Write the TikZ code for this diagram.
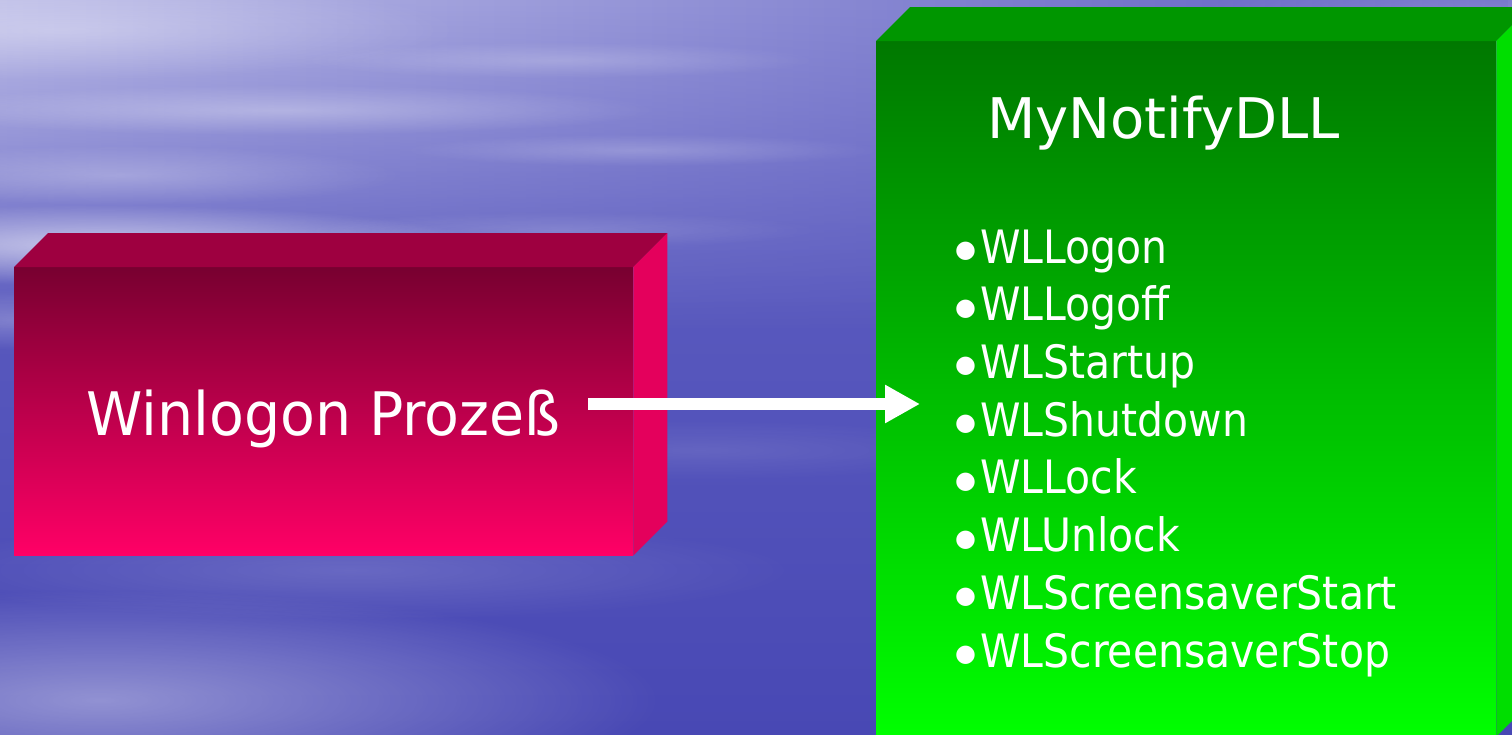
\documentclass[tikz,border=0pt]{standalone}
\usepackage{fontspec}
\newfontfamily\tahA[FakeStretch=0.95]{DejaVu Sans}
\newfontfamily\tahT[FakeStretch=1.0]{DejaVu Sans}
\newfontfamily\tahL[FakeStretch=0.89]{DejaVu Sans}
\newfontfamily\dotfont{DejaVu Sans}
\usetikzlibrary{arrows.meta,fadings}
\definecolor{skyL}{HTML}{BEBEE8}
\definecolor{skyM}{HTML}{8484D0}
\definecolor{skyR}{HTML}{5E5EC2}
\definecolor{baseT}{HTML}{6464C4}
\definecolor{baseB}{HTML}{4848B4}
\definecolor{redTop}{HTML}{780030}
\definecolor{redBot}{HTML}{FF0066}
\definecolor{redTopFace}{HTML}{9E0040}
\definecolor{redSide}{HTML}{E4005C}
\definecolor{grnTop}{HTML}{007800}
\definecolor{grnBot}{HTML}{00FF00}
\definecolor{grnTopFace}{HTML}{009600}
\definecolor{grnSide}{HTML}{00DE00}
\tikzfading[name=soft, inner color=transparent!0, outer color=transparent!100]
\tikzfading[name=skyfade, top color=transparent!0, middle color=transparent!5, bottom color=transparent!100]
\tikzset{
  glow/.style={fill=white, path fading=soft, opacity=#1},
  label/.style={anchor=base west, inner sep=0pt, text=white},
  itemtext/.style={label, font=\tahL\fontsize{46}{56}\selectfont},
}
\newcommand{\bul}{\makebox[23pt][l]{\hspace{-2pt}\raisebox{5.5pt}{\dotfont\fontsize{24}{24}\selectfont●}}}
\begin{document}
\begin{tikzpicture}[x=1pt,y=-1pt]
\useasboundingbox (0,0) rectangle (1512,734);
\clip (0,0) rectangle (1512,734);
% background: sky and sea
\shade[top color=baseT, bottom color=baseB] (0,0) rectangle (1512,734);
\shade[left color=skyL, middle color=skyM, right color=skyR, path fading=skyfade] (0,0) rectangle (1512,330);
\fill[glow=0.25] (1500,20) ellipse (300 and 60);
% horizon glow and clouds
\fill[glow=0.60] (100,245) ellipse (380 and 40);
\fill[glow=0.30] (60,30) ellipse (400 and 50);
\fill[glow=0.30] (280,110) ellipse (380 and 25);
\fill[glow=0.25] (120,175) ellipse (280 and 30);
\fill[glow=0.20] (560,60) ellipse (260 and 18);
\fill[glow=0.20] (640,150) ellipse (240 and 16);
\fill[glow=0.15] (560,230) ellipse (260 and 18);
\fill[glow=0.25] (40,320) ellipse (260 and 30);
\fill[glow=0.40] (100,700) ellipse (560 and 110);
\fill[glow=0.15] (350,570) ellipse (450 and 50);
\fill[glow=0.10] (700,450) ellipse (300 and 30);
% left 3D box
\node[anchor=north west, inner sep=0pt, minimum width=619pt, minimum height=288pt,
      top color=redTop, bottom color=redBot] (rfront) at (14,267) {};
\fill[redTopFace] (rfront.north west) -- ++(34,-34) -- ([shift={(34,-34)}]rfront.north east) -- (rfront.north east) -- cycle;
\fill[redSide] (rfront.north east) -- ++(34,-34) -- ([shift={(34,-34)}]rfront.south east) -- (rfront.south east) -- cycle;
% right 3D box
\node[anchor=north west, inner sep=0pt, minimum width=620pt, minimum height=695pt,
      top color=grnTop, bottom color=grnBot] (gfront) at (876,41) {};
\fill[grnTopFace] (gfront.north west) -- ++(34,-34) -- ([shift={(34,-34)}]gfront.north east) -- (gfront.north east) -- cycle;
\fill[grnSide] (gfront.north east) -- ++(34,-34) -- ([shift={(34,-34)}]gfront.south east) -- (gfront.south east) -- cycle;
% texts
\node[label, font=\tahA\fontsize{60}{72}\selectfont] (wtext) at (86,435) {Winlogon Prozeß};
\node[label, font=\tahT\fontsize{56}{66}\selectfont] (title) at (987,138) {MyNotifyDLL};
\node[itemtext] (i1) at (957,263) {\bul WLLogon};
\node[itemtext] (i2) at (957,320.7) {\bul WLLogoff};
\node[itemtext] (i3) at (957,378.4) {\bul WLStartup};
\node[itemtext] (i4) at (957,436.1) {\bul WLShutdown};
\node[itemtext] (i5) at (957,493.9) {\bul WLLock};
\node[itemtext] (i6) at (957,551.6) {\bul WLUnlock};
\node[itemtext] (i7) at (957,609.3) {\bul WLScreensaverStart};
\node[itemtext] (i8) at (957,667) {\bul WLScreensaverStop};
% arrow
\coordinate (astart) at (588,404);
\coordinate (aend) at (920,404);
\draw[white, line width=12pt, -{Triangle[length=35pt,width=36pt]}] (astart) -- (aend);
\end{tikzpicture}
\end{document}
